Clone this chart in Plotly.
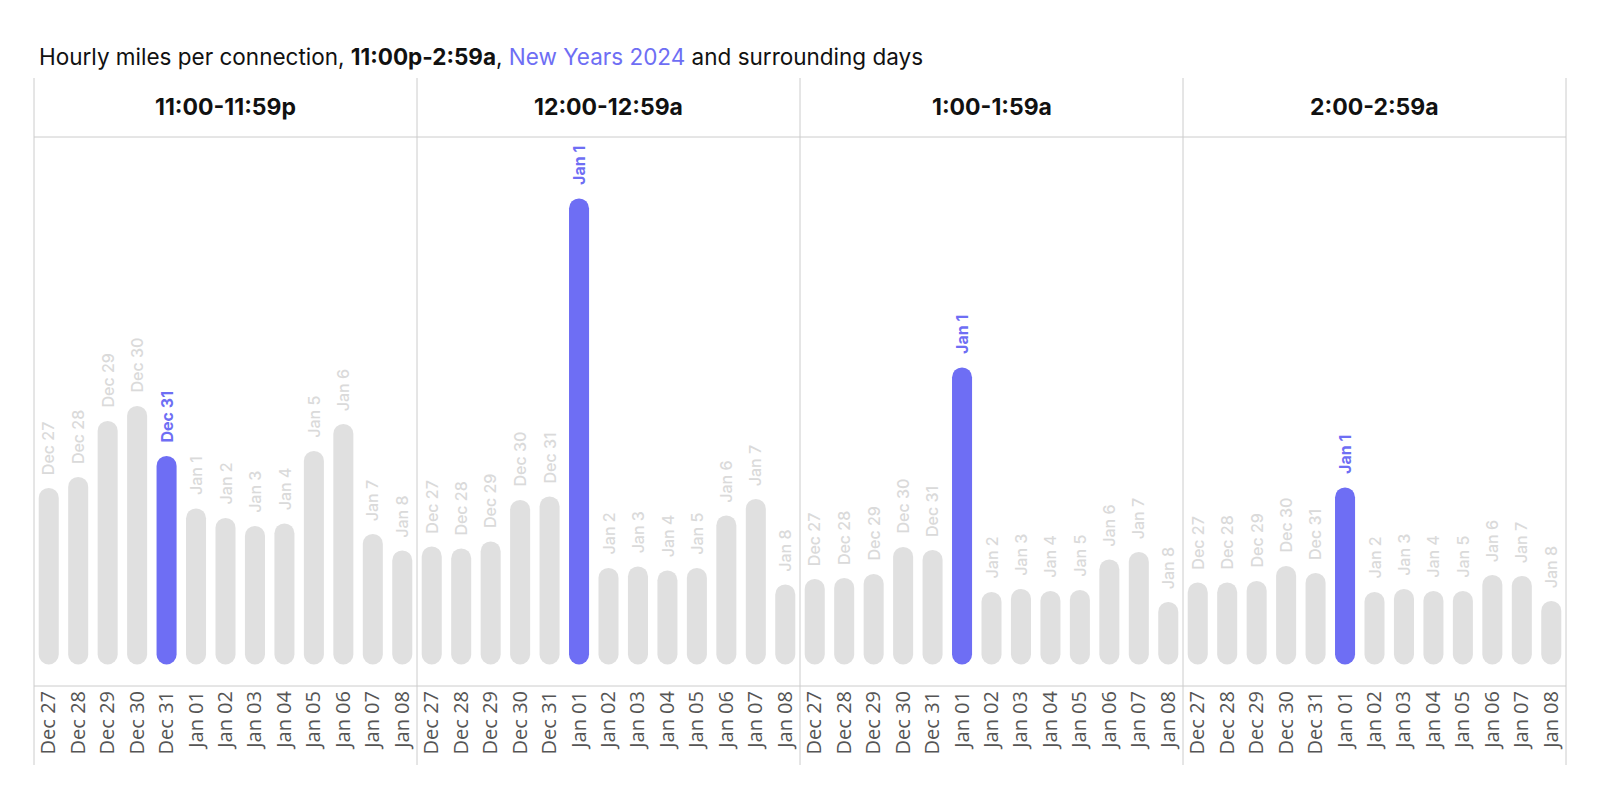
import plotly.graph_objects as go

# ---------------- data ----------------
categories = ["Dec 27", "Dec 28", "Dec 29", "Dec 30", "Dec 31", "Jan 01", "Jan 02",
              "Jan 03", "Jan 04", "Jan 05", "Jan 06", "Jan 07", "Jan 08"]
bar_labels = ["Dec 27", "Dec 28", "Dec 29", "Dec 30", "Dec 31", "Jan 1", "Jan 2",
              "Jan 3", "Jan 4", "Jan 5", "Jan 6", "Jan 7", "Jan 8"]
panel_titles = ["11:00-11:59p", "12:00-12:59a", "1:00-1:59a", "2:00-2:59a"]

values_11pm = [3.53, 3.75, 4.87, 5.17, 4.17, 3.12, 2.93, 2.77, 2.82, 4.27, 4.81, 2.61, 2.28]
values_12am = [2.36, 2.32, 2.46, 3.29, 3.36, 9.32, 1.93, 1.96, 1.88, 1.93, 2.98, 3.31, 1.60]
values_1am = [1.71, 1.73, 1.81, 2.35, 2.29, 5.94, 1.45, 1.51, 1.47, 1.49, 2.10, 2.25, 1.25]
values_2am = [1.64, 1.64, 1.67, 1.97, 1.83, 3.54, 1.45, 1.51, 1.47, 1.47, 1.79, 1.77, 1.27]
panel_values = [values_11pm, values_12am, values_1am, values_2am]
highlight_index = [4, 5, 5, 5]

# ---------------- style ----------------
GRAY = "#e0e0e0"
PURPLE = "#6e6ef4"
LABEL_GRAY = "#dadada"
LINE = "#cccccc"
FONT = "Inter, 'Open Sans', sans-serif"

W, H = 1600, 800
ML, MR, MT, MB = 34, 34, 137, 114
plot_h = H - MT - MB
PX_PER_UNIT = 50.0
y_min = -21.6 / PX_PER_UNIT
y_max = y_min + plot_h / PX_PER_UNIT

fig = go.Figure()
annotations = []
n = len(panel_values)
for p, vals in enumerate(panel_values):
    xa = "x" if p == 0 else f"x{p+1}"
    ya = "y" if p == 0 else f"y{p+1}"
    colors = [PURPLE if i == highlight_index[p] else GRAY for i in range(len(vals))]
    fig.add_trace(go.Bar(x=categories, y=vals, base=[0] * len(vals),
                         marker=dict(color=colors, line=dict(width=0), cornerradius=10),
                         xaxis=xa, yaxis=ya, showlegend=False, hoverinfo="skip"))
    for i, v in enumerate(vals):
        hl = i == highlight_index[p]
        annotations.append(dict(
            x=categories[i], y=v, xref=xa, yref=ya, text=bar_labels[i],
            textangle=-90, showarrow=False, xanchor="center", yanchor="bottom", yshift=11,
            font=dict(family=FONT, size=16, color=PURPLE if hl else LABEL_GRAY,
                      weight=700 if hl else 500)))
    # panel header
    annotations.append(dict(
        x=(p + 0.5) / n, y=1, xref="paper", yref="paper", yshift=30,
        text=panel_titles[p], showarrow=False, xanchor="center", yanchor="middle",
        font=dict(family=FONT, size=23, color="#111111", weight=700)))

    dom = [p / n, (p + 1) / n]
    fig.update_layout(**{
        ("xaxis" if p == 0 else f"xaxis{p+1}"): dict(
            domain=dom, type="category", categoryorder="array", categoryarray=categories,
            range=[-0.5, len(categories) - 0.5], tickangle=-90, showgrid=False,
            showline=False, zeroline=False, ticks="", anchor=ya,
            tickfont=dict(family="'Open Sans', sans-serif", size=20, color="#555555")),
        ("yaxis" if p == 0 else f"yaxis{p+1}"): dict(
            range=[y_min, y_max], showticklabels=False, showgrid=False,
            zeroline=False, showline=False, anchor=xa, fixedrange=True),
    })

# title
annotations.append(dict(
    x=(37 - ML) / (W - ML - MR), y=1 + (MT - 56) / plot_h, xref="paper", yref="paper",
    xanchor="left", yanchor="middle", showarrow=False,
    text=("Hourly miles per connection, <b>11:00p-2:59a</b>, "
          f"<span style='color:{PURPLE}'>New Years 2024</span> and surrounding days"),
    font=dict(family=FONT, size=22.5, color="#111111")))

# frame lines
shapes = []
top_y = 1 + (MT - 78) / plot_h
bot_y = -(765 - (H - MB)) / plot_h
for k in range(n + 1):
    shapes.append(dict(type="line", xref="paper", yref="paper", x0=k / n, x1=k / n,
                       y0=bot_y, y1=top_y, line=dict(color=LINE, width=1)))
for yy in (0, 1):
    shapes.append(dict(type="line", xref="paper", yref="paper", x0=0, x1=1,
                       y0=yy, y1=yy, line=dict(color=LINE, width=1)))

fig.update_layout(
    width=W, height=H, margin=dict(l=ML, r=MR, t=MT, b=MB),
    paper_bgcolor="white", plot_bgcolor="white",
    barmode="overlay", bargap=0.32,
    annotations=annotations, shapes=shapes,
    font=dict(family=FONT),
)

fig.write_html("out.html")
